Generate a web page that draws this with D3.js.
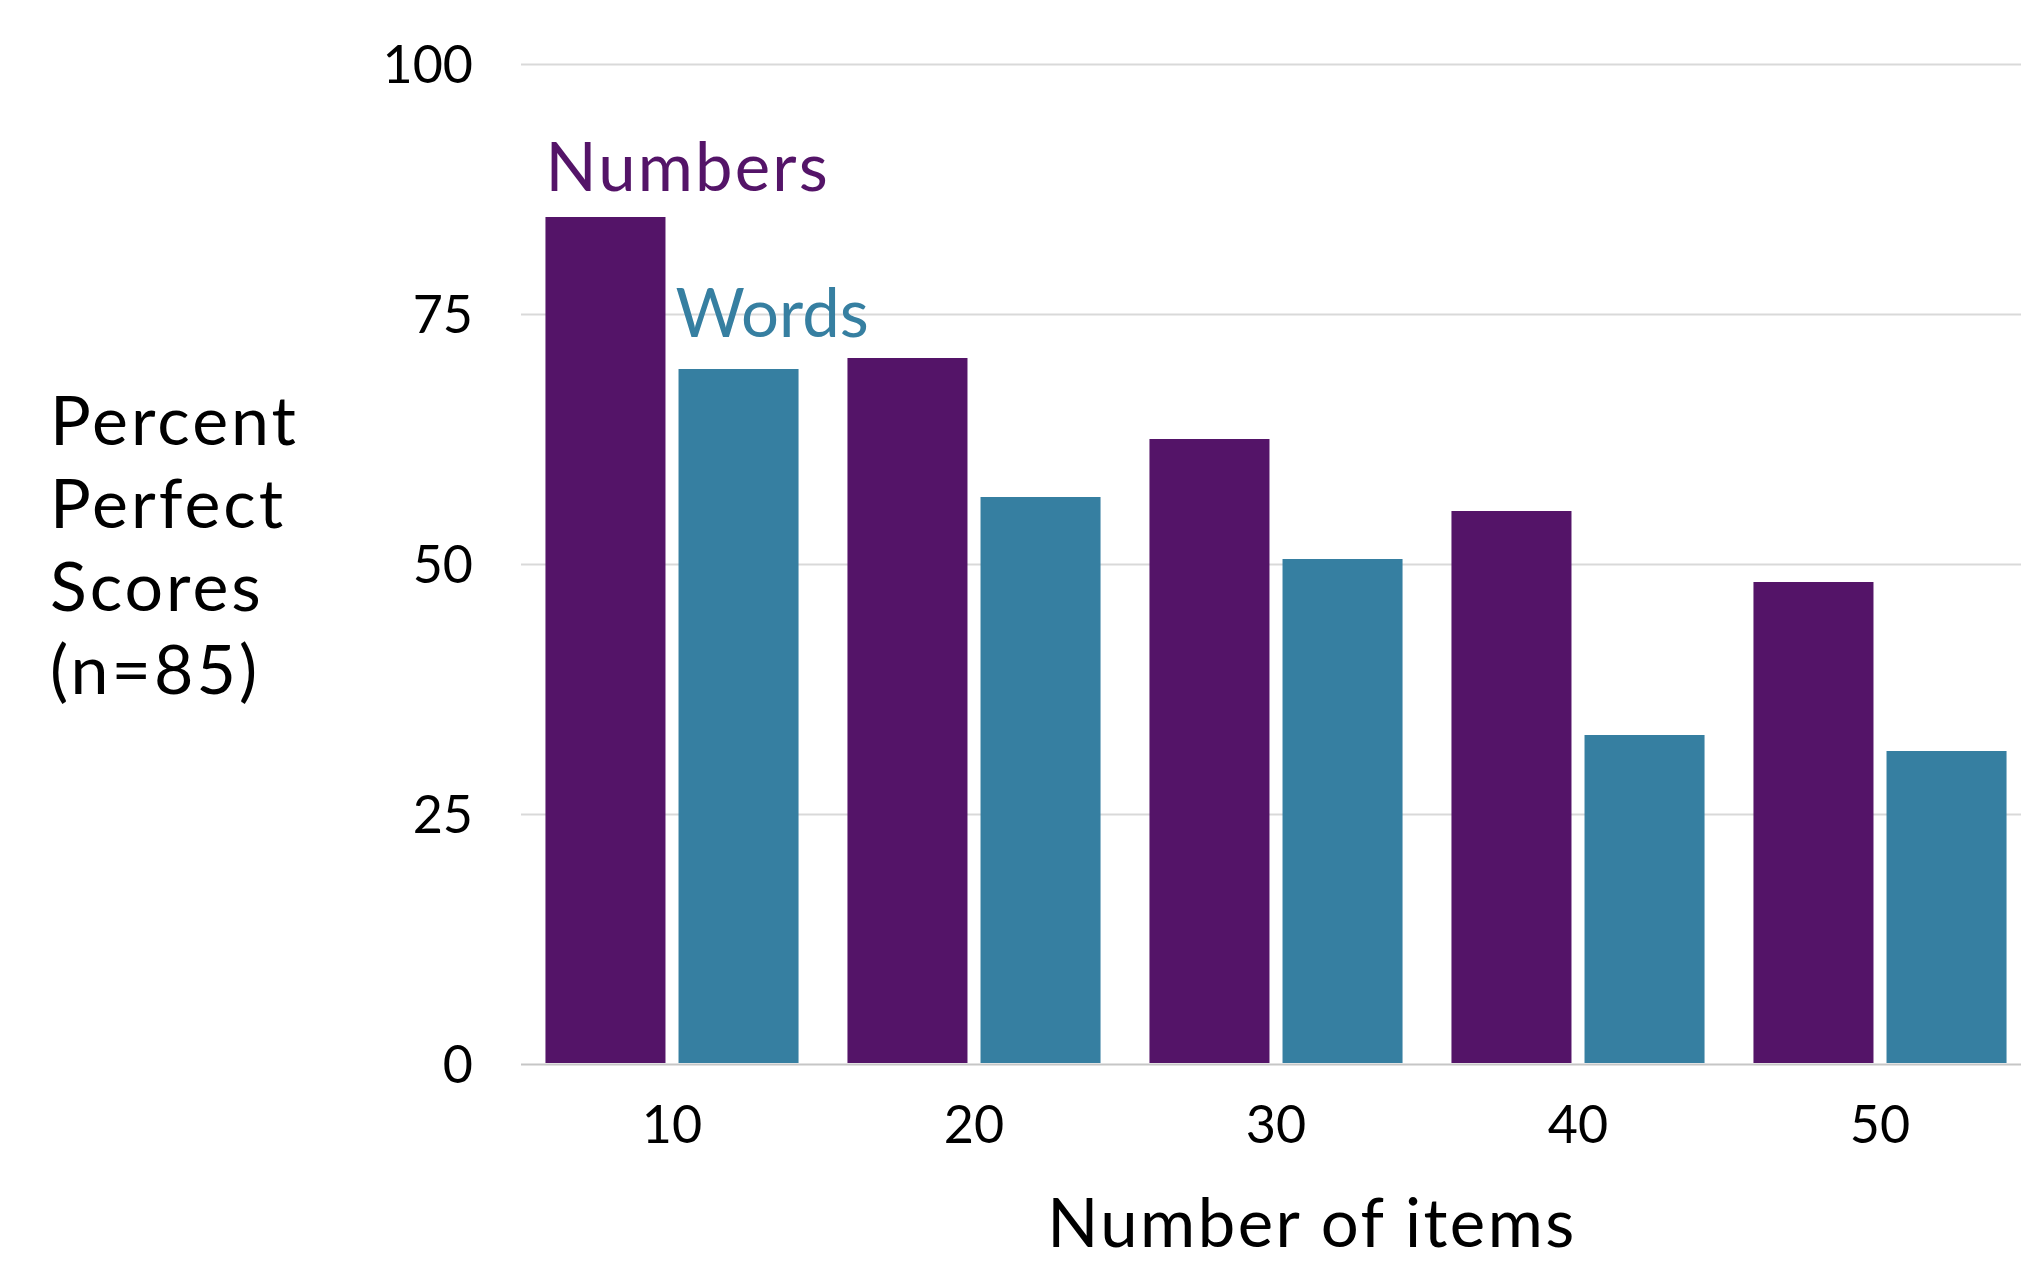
<!DOCTYPE html>
<html>
<head>
<meta charset="utf-8">
<script src="https://cdn.jsdelivr.net/npm/d3@7"></script>
<style>
  body { margin: 0; background: #ffffff; }
  svg { display: block; }
  text { font-family: Lato, "Noto Sans", sans-serif; }
</style>
</head>
<body>
<svg id="chart" width="2021" height="1261"></svg>
<script>
// Share of participants (n=85) with a perfect score, by list length
const categories = ["10", "20", "30", "40", "50"];
const seriesNames = ["Numbers", "Words"];
const numbersValues = [84.7, 70.6, 62.5, 55.3, 48.2];
const wordsValues = [69.5, 56.7, 50.5, 32.9, 31.3];
const yTickValues = [0, 25, 50, 75, 100];
const yTitleLines = ["Percent", "Perfect", "Scores", "(n=85)"];
const xTitle = "Number of items";

const seriesValues = { Numbers: numbersValues, Words: wordsValues };
const colors = { Numbers: "#541468", Words: "#367fa1" };

const W = 2021, H = 1261;
const plot = { left: 521, right: 2031, top: 64, bottom: 1064 };

const svg = d3.select("#chart");
svg.append("rect").attr("width", W).attr("height", H).attr("fill", "#ffffff");

const x0 = d3.scaleBand()
  .domain(categories)
  .range([plot.left, plot.right])
  .paddingInner(0.162)
  .paddingOuter(0.081);

const x1 = d3.scaleBand()
  .domain(seriesNames)
  .range([0, x0.bandwidth()])
  .paddingInner(0.098);

const y = d3.scaleLinear().domain([0, 100]).range([plot.bottom, plot.top]);

// Value axis with full-width gridlines
const yAxis = svg.append("g")
  .attr("transform", `translate(${plot.left},0)`)
  .call(d3.axisLeft(y)
    .tickValues(yTickValues)
    .tickSize(-(W - plot.left))
    .tickPadding(48)
    .tickFormat(d3.format("d")));
yAxis.select(".domain").remove();
yAxis.selectAll(".tick line")
  .attr("stroke", d => d === 0 ? "#c6c6c6" : "#d9d9d9")
  .attr("stroke-width", 2);
yAxis.selectAll(".tick text")
  .attr("fill", "#000000")
  .attr("font-size", 52)
  .attr("dy", "0.36em");

// Category axis (labels only)
const xAxis = svg.append("g")
  .attr("transform", `translate(0,${plot.bottom})`)
  .call(d3.axisBottom(x0).tickSize(0).tickPadding(42));
xAxis.select(".domain").remove();
xAxis.selectAll(".tick text")
  .attr("fill", "#000000")
  .attr("font-size", 52);

// Grouped bars
const groups = svg.append("g").selectAll("g")
  .data(categories)
  .join("g")
  .attr("transform", d => `translate(${x0(d)},0)`);

groups.selectAll("rect")
  .data((d, i) => seriesNames.map(s => ({ series: s, value: seriesValues[s][i] })))
  .join("rect")
  .attr("x", d => x1(d.series))
  .attr("width", x1.bandwidth())
  .attr("y", d => y(d.value))
  .attr("height", d => y(0) - y(d.value) - 1)
  .attr("fill", d => colors[d.series]);

// Direct series labels above the first group
const labelOffsets = { Numbers: { dx: 0, dy: -26, ls: 2.2 }, Words: { dx: -3, dy: -32, ls: 0 } };
svg.append("g").selectAll("text")
  .data(seriesNames)
  .join("text")
  .attr("x", s => x0(categories[0]) + x1(s) + labelOffsets[s].dx)
  .attr("y", s => y(seriesValues[s][0]) + labelOffsets[s].dy)
  .attr("fill", s => colors[s])
  .attr("font-size", 67)
  .attr("letter-spacing", s => labelOffsets[s].ls)
  .text(s => s);

// Axis titles
svg.append("text")
  .attr("x", 1312)
  .attr("y", 1247)
  .attr("text-anchor", "middle")
  .attr("font-size", 67)
  .attr("letter-spacing", 2.5)
  .attr("fill", "#000000")
  .text(xTitle);

svg.append("g").selectAll("text")
  .data(yTitleLines)
  .join("text")
  .attr("x", 50)
  .attr("y", (d, i) => 445 + i * 83)
  .attr("font-size", 68)
  .attr("letter-spacing", 3)
  .attr("fill", "#000000")
  .text(d => d);
</script>
</body>
</html>
